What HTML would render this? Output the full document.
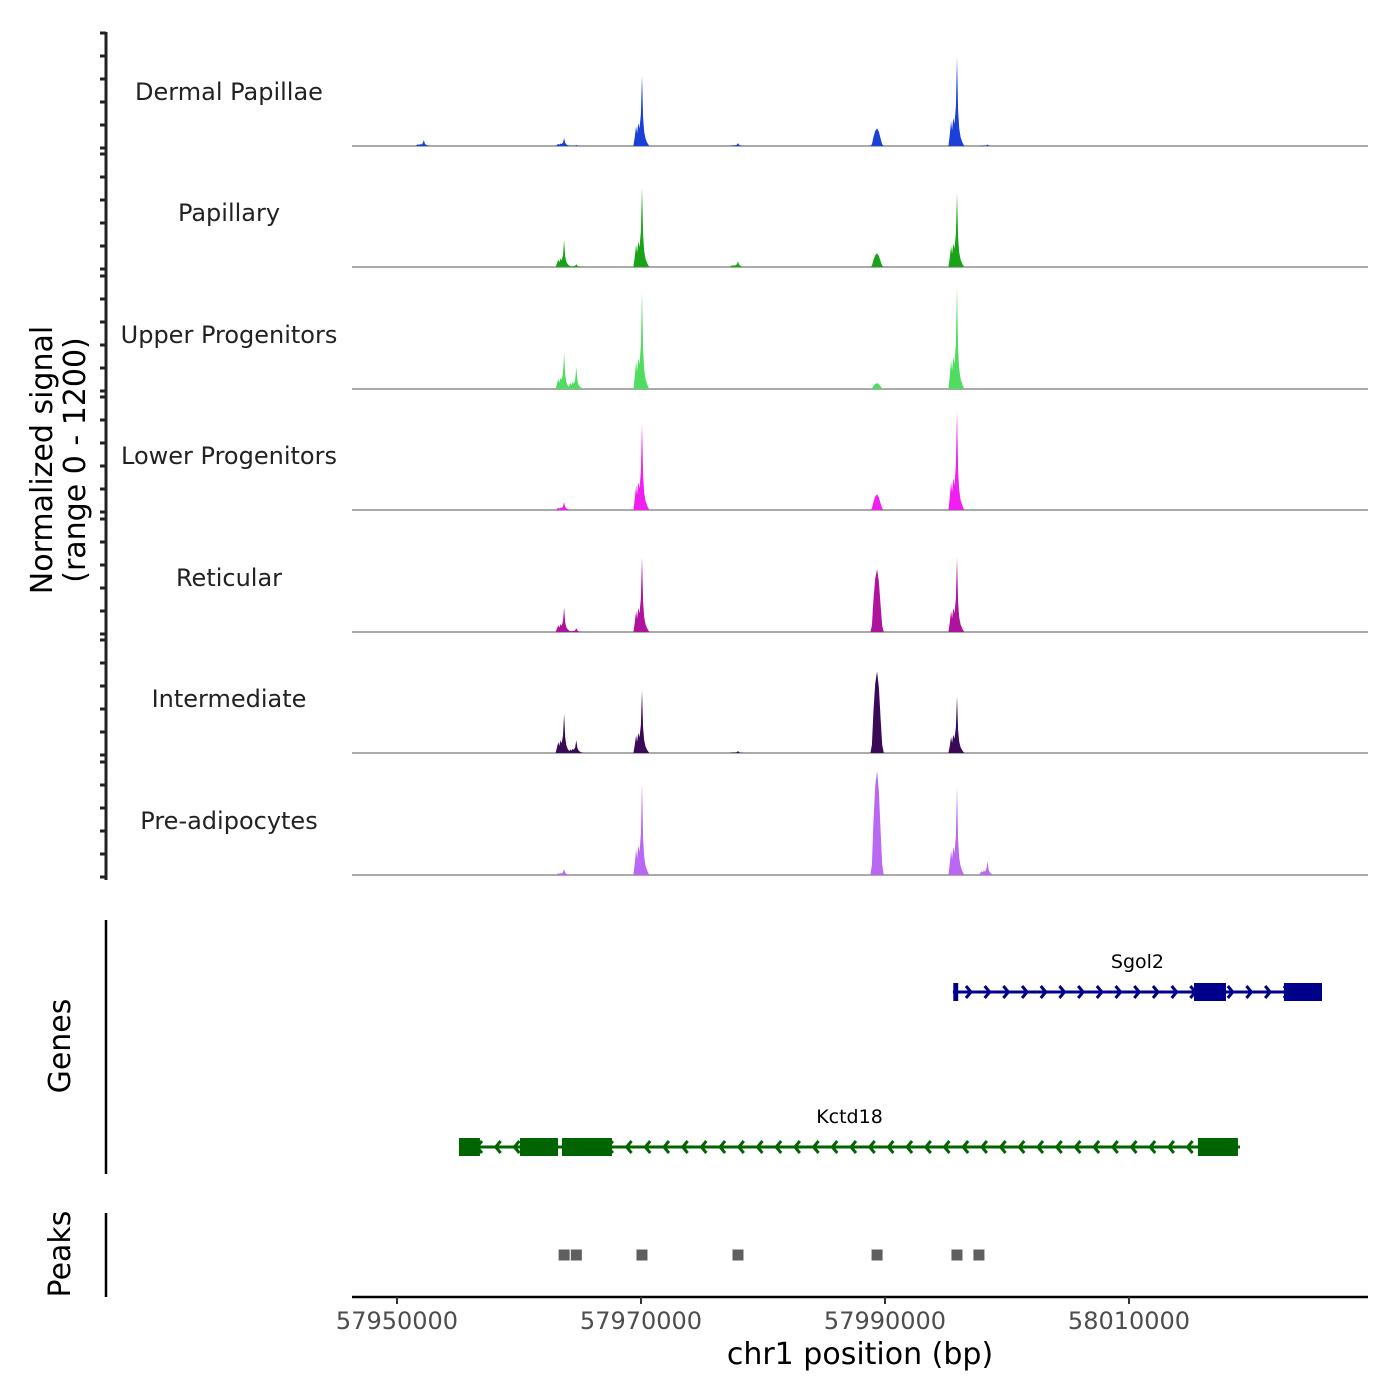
<!DOCTYPE html>
<html><head><meta charset="utf-8"><style>
body{margin:0;background:#fff}
svg{display:block;font-family:"DejaVu Sans","Liberation Sans",sans-serif}
</style></head><body>
<svg id="chart" width="1400" height="1400" viewBox="0 0 1400 1400"></svg>
<script>
// ---- data ----
const trackNames = ["Dermal Papillae","Papillary","Upper Progenitors","Lower Progenitors","Reticular","Intermediate","Pre-adipocytes"];
const trackColors = ["#1a40d8","#18a318","#50dc60","#f01ef0","#b0129e","#3a0a58","#b868f2"];
const peakLoci = [57952200,57963700,57964700,57970080,57977950,57989350,57995900,57998400];
const sigDermal   = [60, 80, 10, 720, 30, 180, 900, 15];
const sigPapillary= [0, 270, 30, 810, 60, 140, 750, 0];
const sigUpper    = [0, 360, 220, 990, 0, 60, 1030, 0];
const sigLower    = [0, 80, 0, 880, 0, 160, 1010, 0];
const sigReticular= [0, 250, 40, 760, 0, 640, 760, 0];
const sigInterm   = [0, 400, 130, 640, 20, 830, 580, 0];
const sigPreadipo = [0, 60, 0, 930, 0, 1060, 890, 140];
const allSignals = [sigDermal,sigPapillary,sigUpper,sigLower,sigReticular,sigInterm,sigPreadipo];
const peakRegions = [57963700,57964700,57970080,57977950,57989350,57995900,57997700];
const xTicks = [57950000,57970000,57990000,58010000];
const sgol2 = {name:"Sgol2", start:57995570, end:58025820, exons:[[57995600,57996000],[58015330,58017950],[58022700,58025820]]};
const kctd18 = {name:"Kctd18", start:57955080, end:58019100, exons:[[57955080,57956800],[57960080,57963200],[57963520,57967620],[58015650,58018930]]};

// ---- scales ----
const X0=352,X1=1368, B0=57950000, PXPB=732/60000;
const xs = bp => 397 + (bp-B0)*PXPB;
const baselines=[146,267,389,510,632,753,875];
const ys = (base,v)=> base - v/1200*118;

const svg=document.getElementById('chart');
const NS="http://www.w3.org/2000/svg";
function mk(tag,attrs,parent){const e=document.createElementNS(NS,tag);for(const k in attrs)e.setAttribute(k,attrs[k]);(parent||svg).appendChild(e);return e;}

// signal axis
const ax=mk('line',{x1:106,y1:32,x2:106,y2:880,stroke:'#222','stroke-width':3});


baselines.forEach(b=>{for(let k=0;k<=5;k++){mk('line',{x1:100,x2:106,y1:b-k*23+2,y2:b-k*23+2,stroke:'#222','stroke-width':3});}});

// shape templates (relative offsets bp, height fraction)
const shape=[[-700,0],[-600,0.12],[-480,0.28],[-400,0.18],[-300,0.32],[-200,0.25],[-90,0.45],[0,1],[90,0.4],[180,0.2],[300,0.1],[450,0.04],[600,0]];
const broad=[[-550,0],[-420,0.1],[-300,0.5],[-150,0.85],[0,1],[150,0.8],[300,0.4],[420,0.1],[550,0]];
trackNames.forEach((name,i)=>{
  const b=baselines[i];
  const g=mk('g',{});
  
  
  const lbl=mk('text',{x:229,y:b-46,'text-anchor':'middle','font-size':24,fill:'#222'},g);
  lbl.textContent=name;
  
  
  mk('line',{x1:X0,x2:X1,y1:b,y2:b,stroke:'#777','stroke-width':1.2},g);
  allSignals[i].forEach((v,j)=>{
    if(v<=0)return;
    const tpl=(j===5)?broad:shape;
    const pts=tpl.map(([o,f])=>xs(peakLoci[j]+o).toFixed(1)+','+ys(b,v*f).toFixed(1));
    const p=mk('polygon',{points:pts.join(' '),fill:trackColors[i]},g);
    
    
  });
});

// y-title
const yt=mk('text',{transform:'translate(52,460) rotate(-90)','text-anchor':'middle','font-size':30,fill:'#000'});
yt.innerHTML='<tspan x="0" dy="0">Normalized signal</tspan><tspan x="0" dy="33">(range 0 - 1200)</tspan>';



// genes
const ga=mk('line',{x1:106,y1:920,x2:106,y2:1174,stroke:'#000','stroke-width':2.5});


const gt=mk('text',{transform:'translate(70,1046) rotate(-90)','text-anchor':'middle','font-size':30});
gt.textContent='Genes';


function drawGene(gene,y,color,dir){
  const g=mk('g',{});
  
  
  mk('line',{x1:xs(gene.start),x2:xs(gene.end),y1:y,y2:y,stroke:color,'stroke-width':3},g);
  for(let x=xs(gene.start)+18;x<xs(gene.end)-8;x+=18.7){
    const d=dir*5;
    mk('polyline',{points:`${x-d},${y-6} ${x},${y} ${x-d},${y+6}`,fill:'none',stroke:color,'stroke-width':3},g);
  }
  gene.exons.forEach(e=>{mk('rect',{x:xs(e[0]),y:y-9,width:xs(e[1])-xs(e[0]),height:18,fill:color},g);});
  const t=mk('text',{x:(xs(gene.start)+xs(gene.end))/2,y:y-24,'text-anchor':'middle','font-size':19},g);
  t.textContent=gene.name;
}
drawGene(sgol2,992,'#00008b',1);
drawGene(kctd18,1147,'#006400',-1);

// peaks
const pa=mk('line',{x1:106,y1:1213,x2:106,y2:1297,stroke:'#000','stroke-width':2.5});


const pt=mk('text',{transform:'translate(70,1254) rotate(-90)','text-anchor':'middle','font-size':30});
pt.textContent='Peaks';


peakRegions.forEach(p=>{
  const r=mk('rect',{x:xs(p)-5.5,y:1249.5,width:11,height:11,fill:'#5f5f5f'});
  
  
});

// x axis
const xa=mk('line',{x1:X0,x2:X1,y1:1297,y2:1297,stroke:'#000','stroke-width':2.5});


xTicks.forEach(t=>{
  mk('line',{x1:xs(t),x2:xs(t),y1:1297,y2:1304,stroke:'#333','stroke-width':2});
  const l=mk('text',{x:xs(t),y:1329,'text-anchor':'middle','font-size':24,fill:'#4d4d4d'});
  l.textContent=t;
  
  
});
const xt=mk('text',{x:860,y:1364,'text-anchor':'middle','font-size':30});
xt.textContent='chr1 position (bp)';


</script>
</body></html>
